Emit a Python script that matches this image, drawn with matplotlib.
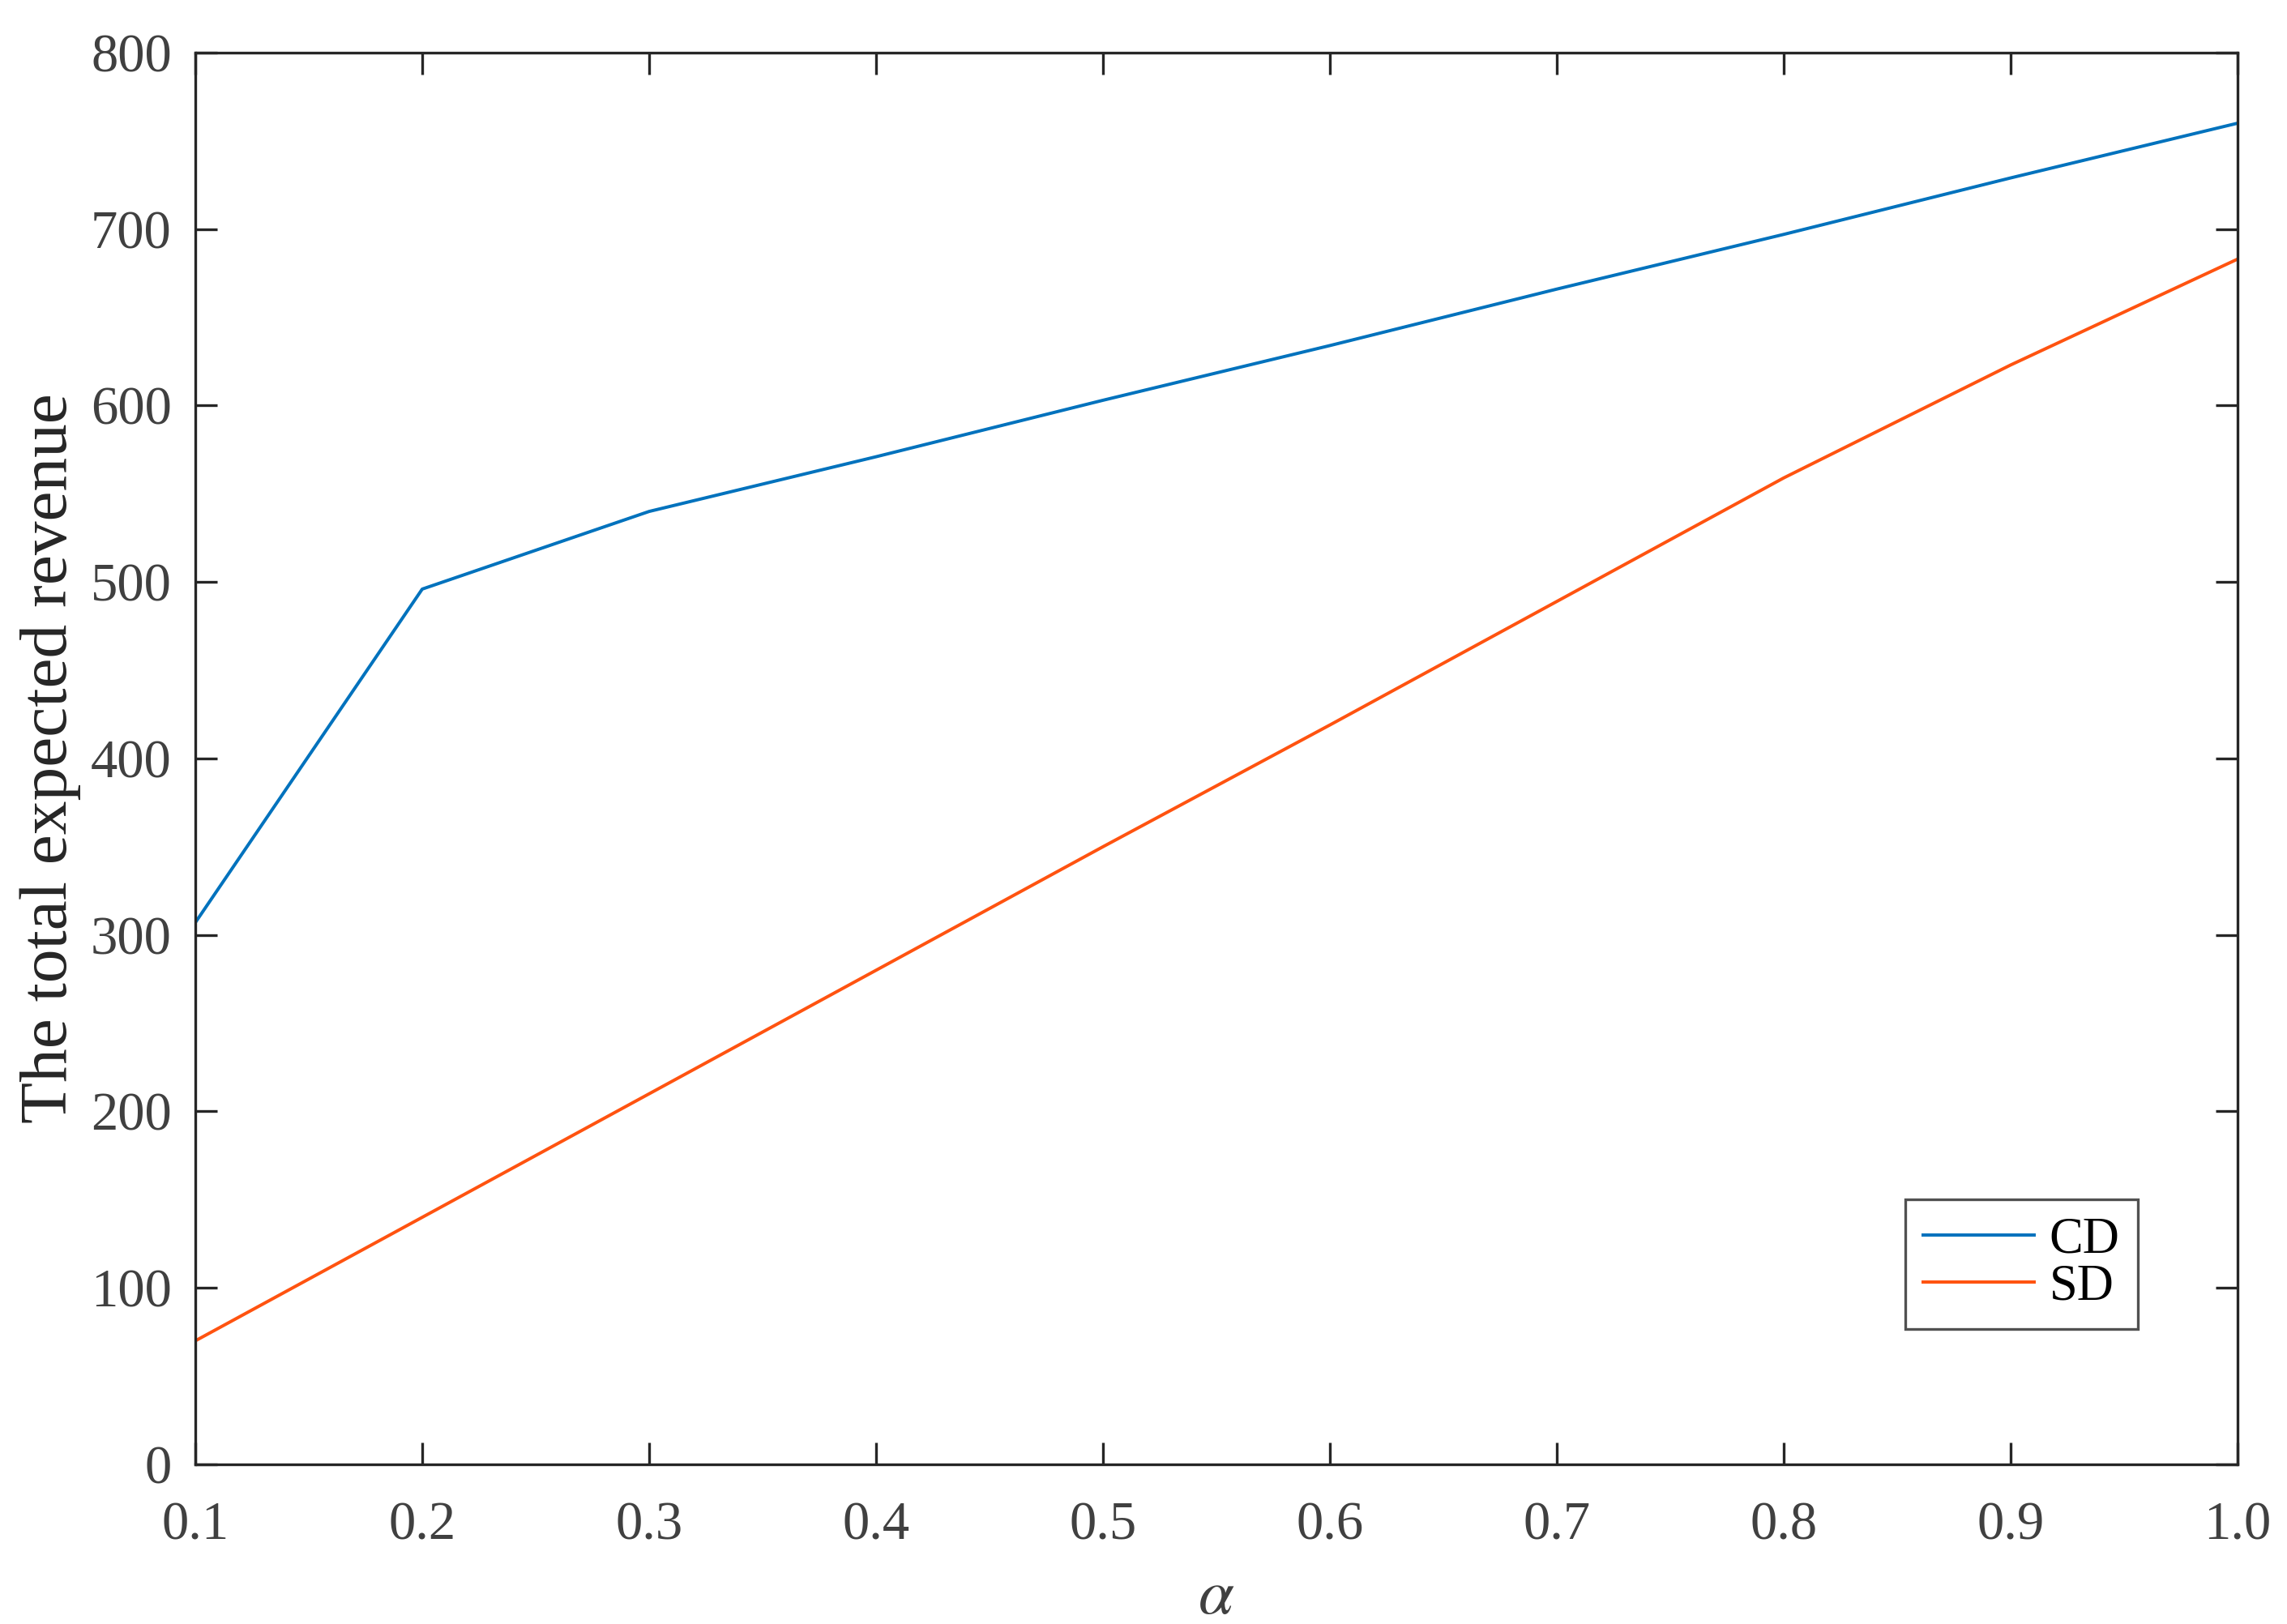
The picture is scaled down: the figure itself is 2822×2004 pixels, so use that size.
import matplotlib
matplotlib.use('Agg')
import matplotlib.pyplot as plt

# -------------------------[Data]-------------------------
alpha = [0.1, 0.2, 0.3, 0.4, 0.5, 0.6, 0.7, 0.8, 0.9, 1.0]
cd_revenue = [307, 496, 540, 571, 603, 634, 666, 697, 729, 760]
sd_revenue = [70, 140, 210, 280, 350, 419, 489, 559, 623, 683]
x_ticks = [0.1, 0.2, 0.3, 0.4, 0.5, 0.6, 0.7, 0.8, 0.9, 1.0]
x_ticklabels = ['0.1', '0.2', '0.3', '0.4', '0.5', '0.6', '0.7', '0.8', '0.9', '1.0']
y_ticks = [0, 100, 200, 300, 400, 500, 600, 700, 800]
# --------------------------------------------------------

plt.rcParams['font.family'] = ['Liberation Serif', 'DejaVu Serif']
plt.rcParams['mathtext.fontset'] = 'stix'

fig = plt.figure(figsize=(2822 / 300, 2004 / 300), dpi=300)
ax = fig.add_axes([0.0854, 0.0983, 0.8930, 0.8693])

ax.plot(alpha, cd_revenue, color='#0072BD', linewidth=0.95, label='CD')
ax.plot(alpha, sd_revenue, color='#FF5310', linewidth=0.95, label='SD')

ax.set_xlim(0.1, 1.0)
ax.set_ylim(0, 800)
ax.set_xticks(x_ticks)
ax.set_xticklabels(x_ticklabels)
ax.set_yticks(y_ticks)

for s in ax.spines.values():
    s.set_linewidth(0.8)
    s.set_color('#262626')
ax.tick_params(direction='in', length=6.5, width=0.8, color='#262626',
               top=True, right=True, labelsize=16, labelcolor='#404040')
ax.tick_params(axis='x', pad=11)
ax.tick_params(axis='y', pad=7)

ax.set_xlabel(r'$\alpha$', fontsize=19, color='#404040')
ax.xaxis.set_label_coords(0.5, -0.0746)
ax.set_ylabel('The total expected revenue', fontsize=20, color='#262626')
ax.yaxis.set_label_coords(-0.056, 0.5)

leg = ax.legend(loc='lower right', bbox_to_anchor=(0.951, 0.096), borderaxespad=0,
                fontsize=15, frameon=True, fancybox=False, edgecolor='#262626',
                handlelength=2.2, borderpad=0.35, labelspacing=0.0, handletextpad=0.3)
leg.get_frame().set_linewidth(0.8)
for t in leg.get_texts():
    t.set_color('black')

fig.savefig('out.png', dpi=300, facecolor='white')
